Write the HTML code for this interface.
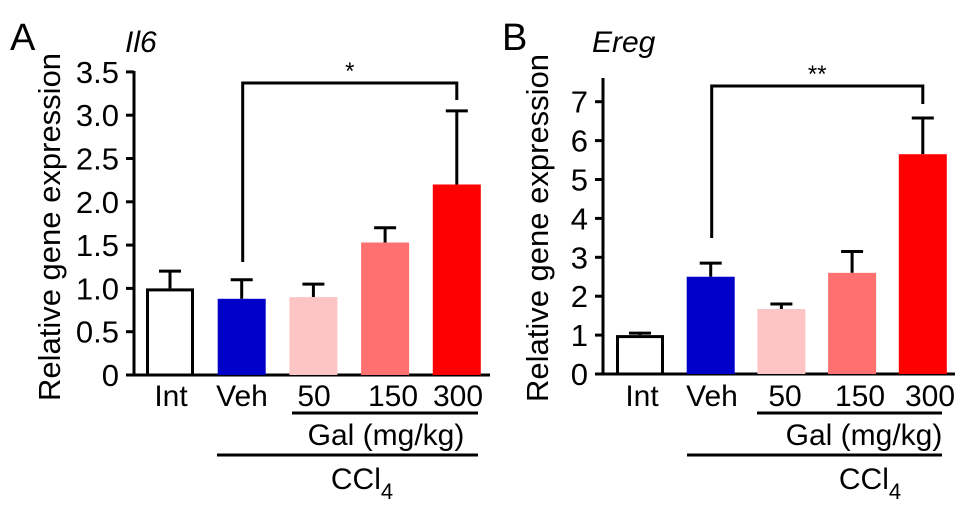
<!DOCTYPE html>
<html><head><meta charset="utf-8">
<style>
html,body{margin:0;padding:0;background:#fff;}
svg{display:block;font-family:"Liberation Sans",Arial,sans-serif;}
</style></head>
<body>
<svg id="fig" width="969" height="517" viewBox="0 0 969 517" xmlns="http://www.w3.org/2000/svg"></svg>
<script>
const categories = ["Int","Veh","50","150","300"];
const colors = ["#ffffff","#0000c8","#fcc4c4","#ff7070","#ff0000"];
const il6Values = [1.0, 0.88, 0.9, 1.53, 2.2];
const il6Errors = [0.2, 0.22, 0.15, 0.17, 0.85];
const il6Ticks = ["0","0.5","1.0","1.5","2.0","2.5","3.0","3.5"];
const il6TickValues = [0,0.5,1,1.5,2,2.5,3,3.5];
const eregValues = [1.0, 2.5, 1.67, 2.6, 5.65];
const eregErrors = [0.05, 0.35, 0.13, 0.55, 0.93];
const eregTicks = ["0","1","2","3","4","5","6","7"];
const eregTickValues = [0,1,2,3,4,5,6,7];

const NS = "http://www.w3.org/2000/svg";
const svg = document.getElementById("fig");
function mk(tag, attrs, parent, text){
  const e = document.createElementNS(NS, tag);
  for (const k in attrs) e.setAttribute(k, attrs[k]);
  if (text !== undefined) e.textContent = text;
  (parent || svg).appendChild(e);
  return e;
}

function panel(cfg){
  const g = mk("g", {});
  
  
  const y = v => cfg.y0 - v * cfg.scale;
  const x = i => cfg.firstBar + i * cfg.step;
  const L = mk("text", {x: cfg.letterX, y: 50, "font-size": 38}, g, cfg.letter);
  
  
  const T = mk("text", {x: cfg.titleX, y: 52, "font-size": 30, "font-style": "italic"}, g, cfg.title);
  
  
  const yt = mk("text", {x: 0, y: 0, "font-size": 31, "text-anchor": "middle",
    transform: `translate(${cfg.yTitleX},${cfg.yTitleY}) rotate(-90)`}, g, "Relative gene expression");
  
  
  const ya = mk("line", {x1: cfg.axisX, y1: cfg.axisTop, x2: cfg.axisX, y2: cfg.y0 + 1.5, stroke: "#000", "stroke-width": 3}, g);
  
  
  const xa = mk("line", {x1: cfg.axisX - 8, y1: cfg.y0, x2: cfg.axisRight, y2: cfg.y0, stroke: "#000", "stroke-width": 3}, g);
  
  
  cfg.tickValues.forEach((v, i) => {
    const t = mk("line", {x1: cfg.axisX - 8, y1: y(v), x2: cfg.axisX, y2: y(v), stroke: "#000", "stroke-width": 3}, g);
    
    
    const tl = mk("text", {x: cfg.axisX - 15, y: y(v) + 11, "font-size": 31, "text-anchor": "end"}, g, cfg.ticks[i]);
    
    
  });
  cfg.values.forEach((v, i) => {
    const bx = x(i);
    const top = y(v), eTop = y(v + cfg.errors[i]);
    const el = mk("line", {x1: bx + cfg.bw/2, y1: top, x2: bx + cfg.bw/2, y2: eTop, stroke: "#000", "stroke-width": 3}, g);
    
    
    const ec = mk("line", {x1: bx + cfg.bw/2 - 11, y1: eTop, x2: bx + cfg.bw/2 + 11, y2: eTop, stroke: "#000", "stroke-width": 3}, g);
    
    
    const isWhite = i === 0;
    const r = mk("rect", {x: isWhite ? bx + 1.5 : bx, y: isWhite ? top + 1.5 : top,
      width: isWhite ? cfg.bw - 3 : cfg.bw, height: isWhite ? cfg.y0 - top - 1.5 : cfg.y0 - top,
      fill: colors[i], stroke: isWhite ? "#000" : "none", "stroke-width": 3}, g);
    
    
    const lb = mk("text", {x: cfg.labelX[i], y: 406, "font-size": 30, "text-anchor": "middle"}, g, categories[i]);
    
    
  });
  const bx1 = x(1) + cfg.bw/2 + 1, bx2 = x(4) + cfg.bw/2;
  const br = mk("path", {d: `M${bx1},${cfg.legL} V${cfg.brY} H${bx2} V${cfg.legR}`, fill: "none", stroke: "#000", "stroke-width": 3}, g);
  
  
  const st = mk("text", {x: (bx1 + bx2)/2, y: cfg.brY - 4, "font-size": 24, "text-anchor": "middle"}, g, cfg.stars);
  
  
  const gl = mk("line", {x1: cfg.galL, y1: 413, x2: cfg.galR, y2: 413, stroke: "#000", "stroke-width": 3}, g);
  
  
  const gt = mk("text", {x: cfg.galCx, y: 445, "font-size": 30, "text-anchor": "middle"}, g, "Gal (mg/kg)");
  
  
  const cl = mk("line", {x1: cfg.cclL, y1: 455, x2: cfg.galR, y2: 455, stroke: "#000", "stroke-width": 3}, g);
  
  
  const ct = mk("text", {x: cfg.cclCx, y: 489, "font-size": 30, "text-anchor": "middle"}, g);
  
  
  mk("tspan", {}, ct, "CCl");
  mk("tspan", {dy: 10, "font-size": 22}, ct, "4");
}

panel({name: "panel-a-il6", letter: "A", letterX: 10, title: "Il6", titleX: 125,
  yTitleX: 60, yTitleY: 227, axisX: 134, axisTop: 71, axisRight: 490, y0: 375, scale: 86.6,
  ticks: il6Ticks, tickValues: il6TickValues, values: il6Values, errors: il6Errors,
  firstBar: 146, step: 71.7, bw: 48, labelX: [171, 242, 314, 393, 458],
  brY: 83, legL: 262, legR: 100, stars: "*", galL: 292, galR: 478, galCx: 386, cclL: 217, cclCx: 362});

panel({name: "panel-b-ereg", letter: "B", letterX: 502, title: "Ereg", titleX: 592,
  yTitleX: 548, yTitleY: 228, axisX: 603, axisTop: 78, axisRight: 955, y0: 374, scale: 38.9,
  ticks: eregTicks, tickValues: eregTickValues, values: eregValues, errors: eregErrors,
  firstBar: 616, step: 70.7, bw: 48, labelX: [642, 712, 785, 860, 930],
  brY: 86, legL: 238, legR: 104, stars: "**", galL: 757, galR: 942, galCx: 864, cclL: 687, cclCx: 870});
</script>
</body></html>
